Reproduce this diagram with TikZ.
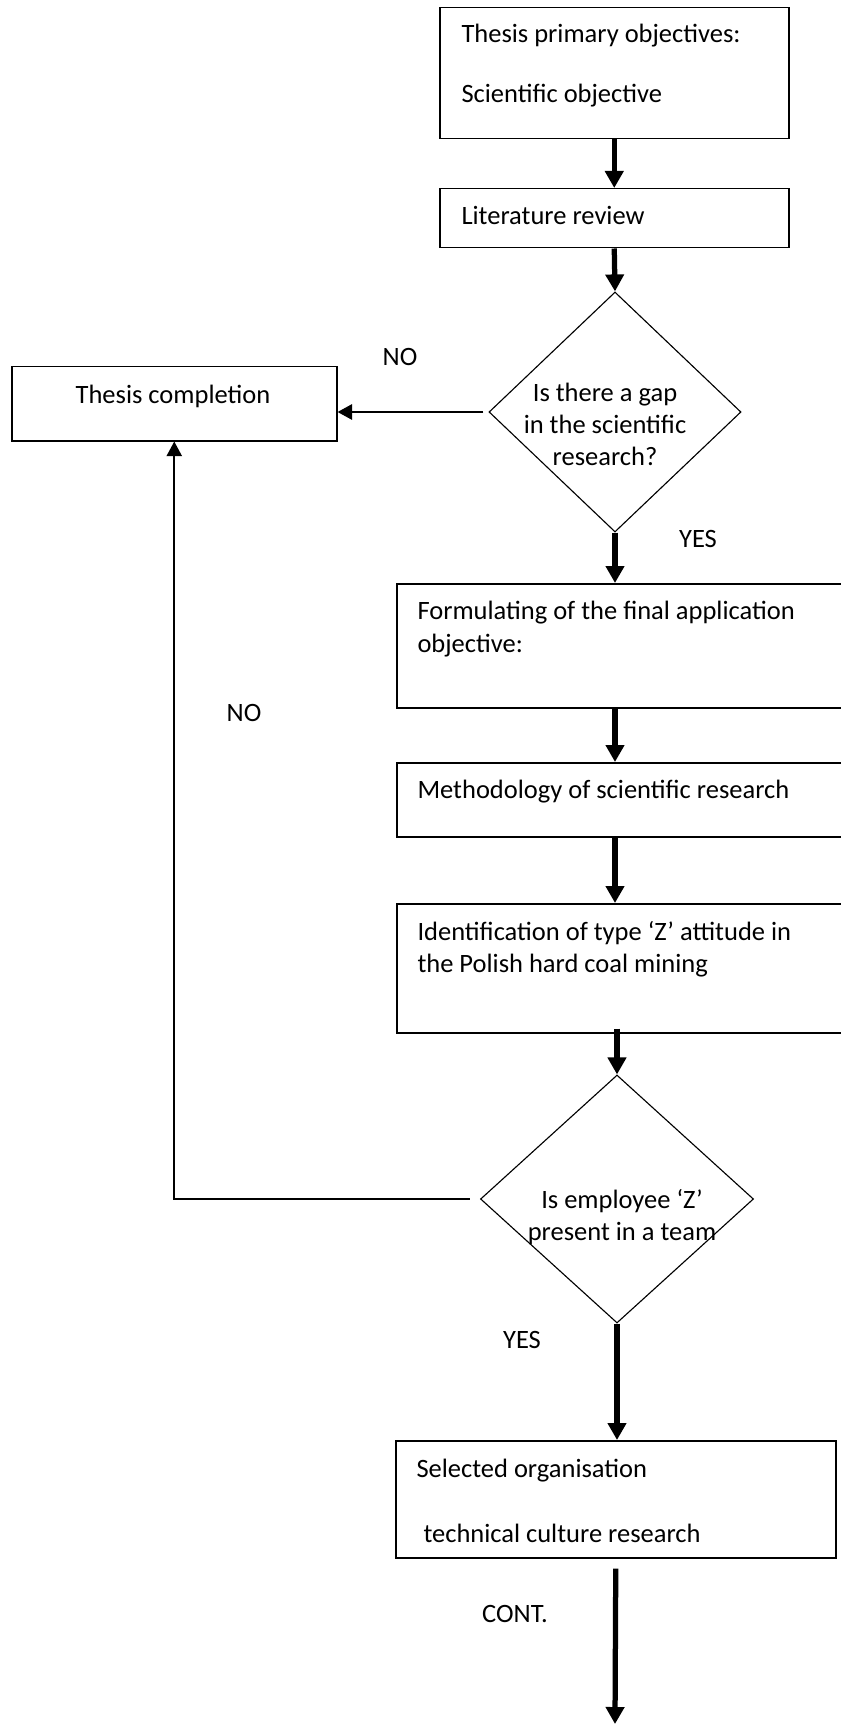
\documentclass[tikz,border=0pt]{standalone}
\usepackage{fontspec}
\setmainfont{Carlito}
\usepackage{tikz}
\usetikzlibrary{shapes.geometric,arrows.meta}

\tikzset{
  stage/.style = {rectangle, draw = black, line width = 0.6pt,
                  anchor = north west, inner sep = 0pt},
  query/.style = {diamond, draw = black, line width = 0.45pt, inner sep = 0pt},
  words/.style = {anchor = base west, inner sep = 0pt, align = left},
  tag/.style   = {anchor = base, inner sep = 0pt, align = center},
  flow/.style  = {line width = 2.1pt, -{Triangle[length=6.8pt,width=7.2pt]}},
  back/.style  = {line width = 0.8pt, -{Triangle[length=5.8pt,width=6pt]}},
}

\begin{document}
\begin{tikzpicture}[x=0.4pt, y=-0.4pt, font=\fontsize{10.6}{12.8}\selectfont]
  \useasboundingbox (0,0) rectangle (840,1724);

  % the boxes down the right hand side
  \node[stage, minimum width = 139.6pt, minimum height = 52.4pt] (goal) at (439,7) {};
  \node[stage, minimum width = 139.6pt, minimum height = 23.6pt] (lit) at (439,188) {};
  \node[query, minimum width = 100.8pt, minimum height = 96pt] (gap) at (615,412) {};
  \node[stage, minimum width = 181.6pt, minimum height = 49.6pt] (formul) at (396,583) {};
  \node[stage, minimum width = 181.6pt, minimum height = 29.6pt] (method) at (396,762) {};
  \node[stage, minimum width = 181.6pt, minimum height = 51.6pt] (ident) at (396,903) {};
  \node[query, minimum width = 109.2pt, minimum height = 99.2pt] (zpres) at (617,1199) {};
  \node[stage, minimum width = 176pt, minimum height = 46.8pt] (orgsel) at (395,1440) {};
  \coordinate (contend) at (615,1724);

  % the box on the left
  \node[stage, minimum width = 130pt, minimum height = 29.6pt] (done) at (11,366) {};

  % texts (base = last line)
  \node[words] (goaltxt) at (461,103) {Thesis primary objectives:\\[11.2pt]Scientific objective};
  \node[words] (littxt) at (461,225) {Literature review};
  \node[tag] (gaptxt) at (605,465) {Is there a gap\\in the scientific\\research?};
  \node[tag] (donetxt) at (173,404) {Thesis completion};
  \node[words] (formtxt) at (417,652) {Formulating of the final application\\[0.4pt]objective:};
  \node[words] (methtxt) at (417,798) {Methodology of scientific research};
  \node[words] (identtxt) at (417,972) {Identification of type ‘Z’ attitude in\\the Polish hard coal mining};
  \node[tag] (zprestxt) at (622,1240) {Is employee ‘Z’\\present in a team};
  \node[words] (orgtxt) at (416,1542) {Selected organisation\\[13.2pt]\hspace*{2.8pt}technical culture research};

  % answers
  \node[tag] (nogap) at (400,366) {NO};
  \node[tag] (yesgap) at (698,547) {YES};
  \node[tag] (noz) at (244,721) {NO};
  \node[tag] (yesz) at (522,1348) {YES};
  \node[tag] (cont) at (515,1622) {CONT.};

  % main flow
  \draw[flow] (goal.south) -- (goal.south |- lit.north);
  \draw[flow] (lit.south) -- (gap.north);
  \draw[flow] (gap.south) -- (gap.south |- formul.north);
  \draw[flow] (formul.south -| gap.south) -- (method.north -| gap.south);
  \draw[flow] (method.south -| gap.south) -- (ident.north -| gap.south);
  \draw[flow] ([yshift=2pt]ident.south -| zpres.north) -- (zpres.north);
  \draw[flow] (zpres.south) -- (zpres.south |- orgsel.north);
  \draw[flow] ([yshift=-4pt]orgsel.south) -- (contend);

  % the NO branches
  \draw[back, line width = 1.1pt] ([xshift=-2pt]gap.west) -- (gap.west -| done.east);
  \draw[back] ([xshift=-4pt]zpres.west) -| (done.south);

\end{tikzpicture}
\end{document}
